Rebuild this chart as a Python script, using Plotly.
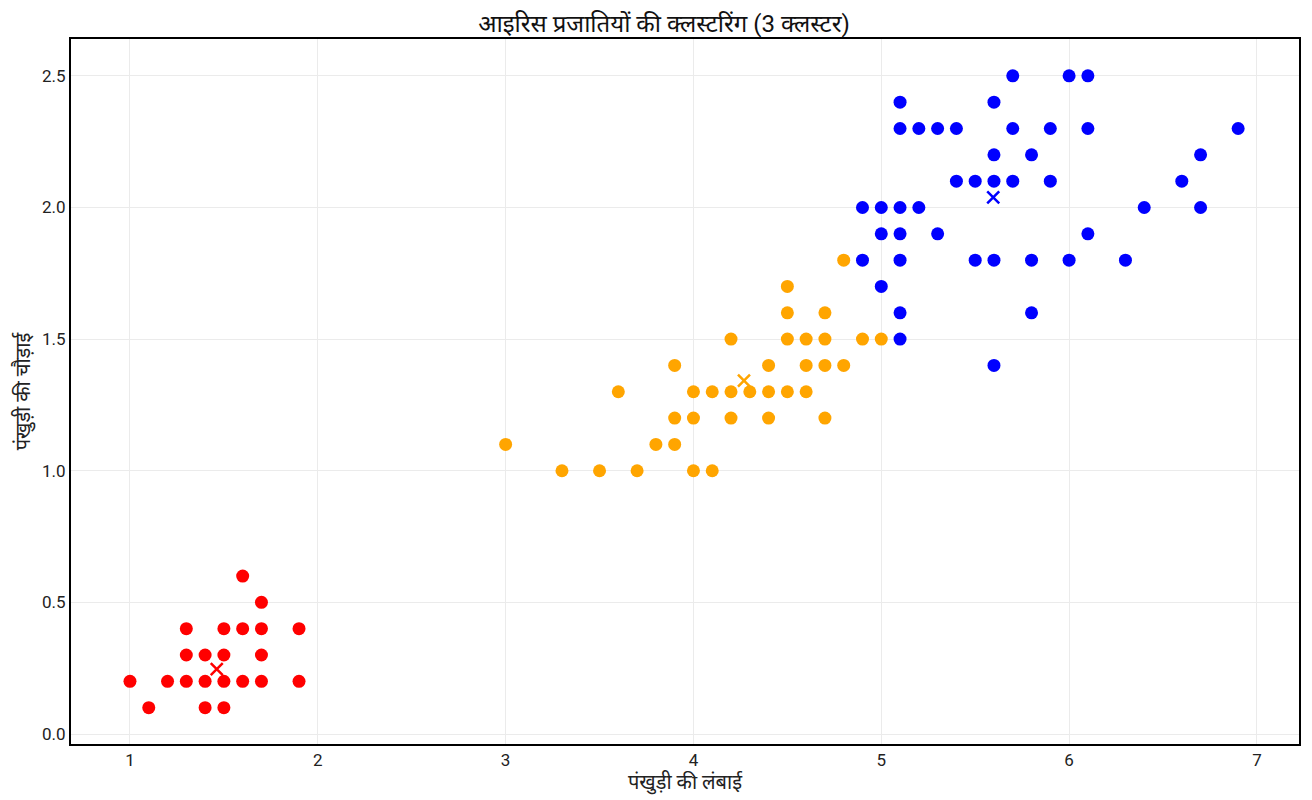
import plotly.graph_objects as go

# cluster 0 (red) - petal length / width
red_len = [1.6, 1.7, 1.3, 1.5, 1.6, 1.7, 1.9, 1.3, 1.4, 1.5, 1.7,
           1.0, 1.2, 1.3, 1.4, 1.5, 1.6, 1.7, 1.9, 1.1, 1.4, 1.5]
red_wid = [0.6, 0.5, 0.4, 0.4, 0.4, 0.4, 0.4, 0.3, 0.3, 0.3, 0.3,
           0.2, 0.2, 0.2, 0.2, 0.2, 0.2, 0.2, 0.2, 0.1, 0.1, 0.1]

# cluster 1 (orange)
orange_len = [4.8, 4.5, 4.5, 4.7, 4.2, 4.5, 4.6, 4.7, 4.9, 5.0,
              3.9, 4.4, 4.6, 4.7, 4.8,
              3.6, 4.0, 4.1, 4.2, 4.3, 4.4, 4.5, 4.6,
              3.9, 4.0, 4.2, 4.4, 4.7,
              3.0, 3.8, 3.9,
              3.3, 3.5, 3.7, 4.0, 4.1]
orange_wid = [1.8, 1.7, 1.6, 1.6, 1.5, 1.5, 1.5, 1.5, 1.5, 1.5,
              1.4, 1.4, 1.4, 1.4, 1.4,
              1.3, 1.3, 1.3, 1.3, 1.3, 1.3, 1.3, 1.3,
              1.2, 1.2, 1.2, 1.2, 1.2,
              1.1, 1.1, 1.1,
              1.0, 1.0, 1.0, 1.0, 1.0]

# cluster 2 (blue)
blue_len = [5.7, 6.0, 6.1,
            5.1, 5.6,
            5.1, 5.2, 5.3, 5.4, 5.7, 5.9, 6.1, 6.9,
            5.6, 5.8, 6.7,
            5.4, 5.5, 5.6, 5.7, 5.9, 6.6,
            4.9, 5.0, 5.1, 5.2, 6.4, 6.7,
            5.0, 5.1, 5.3, 6.1,
            4.9, 5.1, 5.5, 5.6, 5.8, 6.0, 6.3,
            5.0,
            5.1, 5.8,
            5.1,
            5.6]
blue_wid = [2.5, 2.5, 2.5,
            2.4, 2.4,
            2.3, 2.3, 2.3, 2.3, 2.3, 2.3, 2.3, 2.3,
            2.2, 2.2, 2.2,
            2.1, 2.1, 2.1, 2.1, 2.1, 2.1,
            2.0, 2.0, 2.0, 2.0, 2.0, 2.0,
            1.9, 1.9, 1.9, 1.9,
            1.8, 1.8, 1.8, 1.8, 1.8, 1.8, 1.8,
            1.7,
            1.6, 1.6,
            1.5,
            1.4]

# cluster centres
centre_len = [1.462, 4.269, 5.596]
centre_wid = [0.246, 1.342, 2.038]
colours = ["#ff0000", "#ffa500", "#0000ff"]

fig = go.Figure()
for xs, ys, c in [(red_len, red_wid, colours[0]),
                  (orange_len, orange_wid, colours[1]),
                  (blue_len, blue_wid, colours[2])]:
    fig.add_trace(go.Scatter(x=xs, y=ys, mode="markers",
                             marker=dict(color=c, size=13), showlegend=False))

for i in range(3):
    fig.add_trace(go.Scatter(x=[centre_len[i]], y=[centre_wid[i]], mode="markers",
                             marker=dict(symbol="x-thin", size=12, color=colours[i],
                                         line=dict(color=colours[i], width=2.5)),
                             showlegend=False))

fig.update_layout(
    width=1312, height=800,
    template="plotly_white",
    font=dict(family="Roboto, Noto Sans, sans-serif", size=17, color="#222"),
    title=dict(text="आइरिस प्रजातियों की क्लस्टरिंग (3 क्लस्टर)", x=0.5, y=0.98,
               xanchor="center", yanchor="middle", yref="container",
               font=dict(size=24, color="#111")),
    margin=dict(l=63, r=21, t=31, b=64),
    plot_bgcolor="white",
)
fig.update_xaxes(title=dict(text="पंखुड़ी की लंबाई", standoff=4), range=[0.686, 7.224],
                 dtick=1, showline=True, linecolor="black", linewidth=2, mirror=True,
                 gridcolor="#ebebeb", zeroline=False, automargin=False)
fig.update_yaxes(title=dict(text="पंखुड़ी की चौड़ाई", standoff=6), range=[-0.038, 2.64],
                 dtick=0.5, tickformat=".1f", showline=True, linecolor="black", linewidth=2,
                 mirror=True, gridcolor="#ebebeb", zeroline=False, automargin=False)

fig.write_html("out.html")
